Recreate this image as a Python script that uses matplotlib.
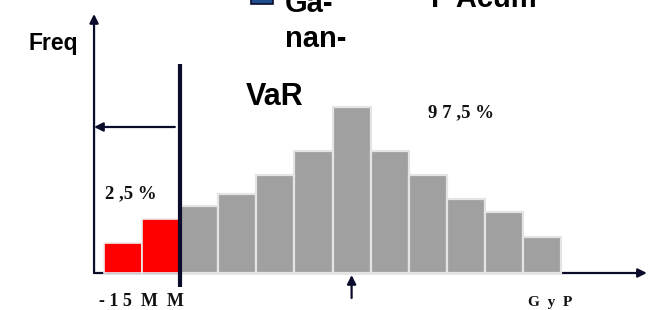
import matplotlib
matplotlib.use("Agg")
import matplotlib.pyplot as plt
from matplotlib.patches import Rectangle

# ---- data ----
tail_freq = [30, 54]                                      # red bars (2.5% tail)
body_freq = [67, 79, 98, 122, 166, 122, 98, 74, 61, 36]   # grey bars (97.5%)
var_edge = 1.5                                            # VaR boundary (between bins)
mean_bin = 6                                              # arrow under the peak
tail_label = "2 ,5 %"
body_label = "9 7 ,5 %"
left_tick = "- 1 5  M  M"
right_tick = "G  y  P"

NAVY = "#0b0b2b"
GREY = "#a0a0a0"
RED = "#ff0000"

fig = plt.figure(figsize=(6.56, 3.10), dpi=100)
ax = fig.add_axes([0, 0, 1, 1])
ax.set_xlim(-123 / 38.1, (656 - 123) / 38.1)
ax.set_ylim(-37, 273)
ax.axis("off")

x_tail = list(range(len(tail_freq)))
x_body = list(range(len(tail_freq), len(tail_freq) + len(body_freq)))
ax.bar(x_tail, tail_freq, width=1.0, color=RED, edgecolor="#eeeeee", linewidth=1.2, zorder=3)
ax.bar(x_body, body_freq, width=1.0, color=GREY, edgecolor="#e4e4e4", linewidth=1.6, zorder=3)

ax0 = -0.76
arrow = dict(arrowstyle="-|>", color=NAVY, lw=1.6, mutation_scale=13, shrinkA=0, shrinkB=0)
# axes with arrows
ax.annotate("", xy=(ax0, 259), xytext=(ax0, 0), arrowprops=arrow, zorder=2)
ax.annotate("", xy=(13.75, 0), xytext=(ax0, 0), arrowprops=arrow, zorder=2)
# VaR line
ax.plot([var_edge, var_edge], [-14, 209], color=NAVY, lw=3.0, zorder=5, solid_capstyle="butt")
# left arrow to y axis
ax.annotate("", xy=(ax0, 146), xytext=(var_edge - 0.14, 146), arrowprops=arrow, zorder=4)
# up arrow under peak
ax.annotate("", xy=(mean_bin, -2), xytext=(mean_bin, -25), arrowprops=arrow, zorder=4)

sans = dict(family=["Liberation Sans", "DejaVu Sans"], weight="bold", color="black")
serif = dict(family=["Liberation Serif", "DejaVu Serif"], weight="bold", color="#111111")

ax.text(-1.84, 223, "Freq", fontsize=16.5, ha="center", va="baseline", **sans)
ax.text(3.228, 168, "VaR", fontsize=22, ha="left", va="baseline", **sans)
ax.text(4.252, 226, "nan-", fontsize=21, ha="left", va="baseline", **sans)
ax.text(4.252, 261, "Ga-", fontsize=21, ha="left", va="baseline", **sans)
ax.text(8.08, 266, "F Acum", fontsize=21, ha="left", va="baseline", **sans)
ax.add_patch(Rectangle((3.36, 269), 0.577, 22, facecolor="#1f4e8c", edgecolor=NAVY,
                       linewidth=1.2, zorder=4, clip_on=False))

ax.text(0.21, 75, tail_label, fontsize=13.5, ha="center", va="baseline", **serif)
ax.text(8.87, 156, body_label, fontsize=13.5, ha="center", va="baseline", **serif)
ax.text(-0.62, -33, left_tick, fontsize=13, ha="left", va="baseline", **serif)
ax.text(11.21, -33, right_tick, fontsize=11, ha="center", va="baseline", **serif)

fig.savefig("out.png", dpi=100)
